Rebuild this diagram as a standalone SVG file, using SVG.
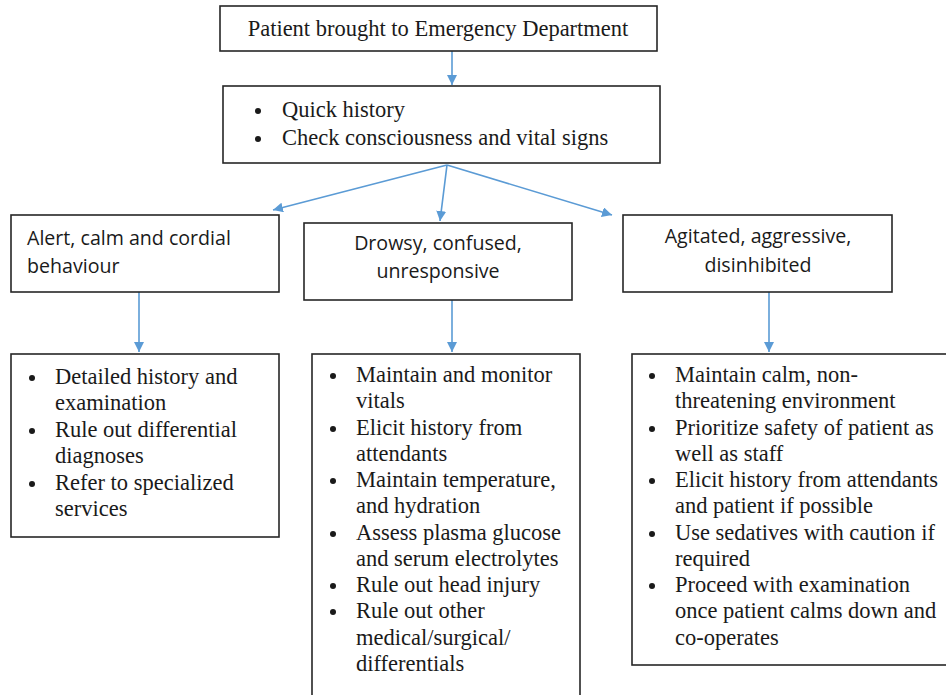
<svg xmlns="http://www.w3.org/2000/svg" width="946" height="695" viewBox="0 0 946 695">
  <style>
    .box { fill: #ffffff; stroke: #262626; stroke-width: 1.6; }
    .serif { font-family: "Liberation Serif", "Times New Roman", serif; font-size: 22.5px; fill: #1a1a1a; }
    .sans { font-family: "Open Sans", "Noto Sans", sans-serif; font-size: 19.6px; fill: #1a1a1a; }
    .mid { text-anchor: middle; }
    .dot { fill: #1a1a1a; }
    .link { stroke: #5b9bd5; stroke-width: 1.6; fill: none; marker-end: url(#arrow); }
  </style>
  <defs>
    <marker id="arrow" viewBox="0 0 10 10" refX="10" refY="5" markerWidth="10" markerHeight="10" markerUnits="userSpaceOnUse" orient="auto">
      <path d="M0,0 L10,5 L0,10 Z" fill="#5b9bd5"/>
    </marker>
  </defs>
  <rect width="946" height="695" fill="#ffffff"/>

  <g id="connectors">
    <line class="link" x1="452" y1="51" x2="452" y2="85"/>
    <line class="link" x1="447" y1="165" x2="273" y2="210"/>
    <line class="link" x1="447" y1="165" x2="440" y2="221"/>
    <line class="link" x1="447" y1="165" x2="612" y2="215"/>
    <line class="link" x1="139" y1="292" x2="139" y2="352"/>
    <line class="link" x1="452" y1="300" x2="452" y2="352"/>
    <line class="link" x1="769" y1="292" x2="769" y2="352"/>
  </g>

  <g id="arrival">
    <rect class="box" x="220" y="6" width="437" height="45"/>
    <text class="serif mid" x="438" y="36">Patient brought to Emergency Department</text>
  </g>

  <g id="triage">
    <rect class="box" x="223" y="86" width="437" height="77"/>
    <circle class="dot" cx="258" cy="111" r="3"/>
    <circle class="dot" cx="258" cy="139" r="3"/>
    <text class="serif" x="282" y="117">Quick history</text>
    <text class="serif" x="282" y="145">Check consciousness and vital signs</text>
  </g>

  <g id="alert">
    <rect class="box" x="11" y="215" width="268" height="77"/>
    <text class="sans" x="27" y="245">Alert, calm and cordial</text>
    <text class="sans" x="27" y="273">behaviour</text>
  </g>

  <g id="drowsy">
    <rect class="box" x="304" y="223" width="268" height="77"/>
    <text class="sans mid" x="438" y="250">Drowsy, confused,</text>
    <text class="sans mid" x="438" y="278">unresponsive</text>
  </g>

  <g id="agitated">
    <rect class="box" x="623" y="215" width="269" height="77"/>
    <text class="sans mid" x="758" y="243">Agitated, aggressive,</text>
    <text class="sans mid" x="758" y="272">disinhibited</text>
  </g>

  <g id="alert-care">
    <rect class="box" x="11" y="354" width="268" height="183"/>
    <circle class="dot" cx="32" cy="378" r="3"/>
    <circle class="dot" cx="32" cy="431" r="3"/>
    <circle class="dot" cx="32" cy="484" r="3"/>
    <text class="serif" x="55" y="384">Detailed history and</text>
    <text class="serif" x="55" y="410">examination</text>
    <text class="serif" x="55" y="437">Rule out differential</text>
    <text class="serif" x="55" y="463">diagnoses</text>
    <text class="serif" x="55" y="490">Refer to specialized</text>
    <text class="serif" x="55" y="516">services</text>
  </g>

  <g id="drowsy-care">
    <rect class="box" x="312" y="354" width="268" height="360"/>
    <circle class="dot" cx="333" cy="376" r="3"/>
    <circle class="dot" cx="333" cy="429" r="3"/>
    <circle class="dot" cx="333" cy="481" r="3"/>
    <circle class="dot" cx="333" cy="534" r="3"/>
    <circle class="dot" cx="333" cy="586" r="3"/>
    <circle class="dot" cx="333" cy="612" r="3"/>
    <text class="serif" x="356" y="382">Maintain and monitor</text>
    <text class="serif" x="356" y="408">vitals</text>
    <text class="serif" x="356" y="435">Elicit history from</text>
    <text class="serif" x="356" y="461">attendants</text>
    <text class="serif" x="356" y="487">Maintain temperature,</text>
    <text class="serif" x="356" y="513">and hydration</text>
    <text class="serif" x="356" y="540">Assess plasma glucose</text>
    <text class="serif" x="356" y="566">and serum electrolytes</text>
    <text class="serif" x="356" y="592">Rule out head injury</text>
    <text class="serif" x="356" y="618">Rule out other</text>
    <text class="serif" x="356" y="645">medical/surgical/</text>
    <text class="serif" x="356" y="671">differentials</text>
  </g>

  <g id="agitated-care">
    <rect class="box" x="632" y="354" width="330" height="311"/>
    <circle class="dot" cx="652" cy="376" r="3"/>
    <circle class="dot" cx="652" cy="429" r="3"/>
    <circle class="dot" cx="652" cy="481" r="3"/>
    <circle class="dot" cx="652" cy="534" r="3"/>
    <circle class="dot" cx="652" cy="586" r="3"/>
    <text class="serif" x="675" y="382">Maintain calm, non-</text>
    <text class="serif" x="675" y="408">threatening environment</text>
    <text class="serif" x="675" y="435">Prioritize safety of patient as</text>
    <text class="serif" x="675" y="461">well as staff</text>
    <text class="serif" x="675" y="487">Elicit history from attendants</text>
    <text class="serif" x="675" y="513">and patient if possible</text>
    <text class="serif" x="675" y="540">Use sedatives with caution if</text>
    <text class="serif" x="675" y="566">required</text>
    <text class="serif" x="675" y="592">Proceed with examination</text>
    <text class="serif" x="675" y="618">once patient calms down and</text>
    <text class="serif" x="675" y="645">co-operates</text>
  </g>
</svg>
